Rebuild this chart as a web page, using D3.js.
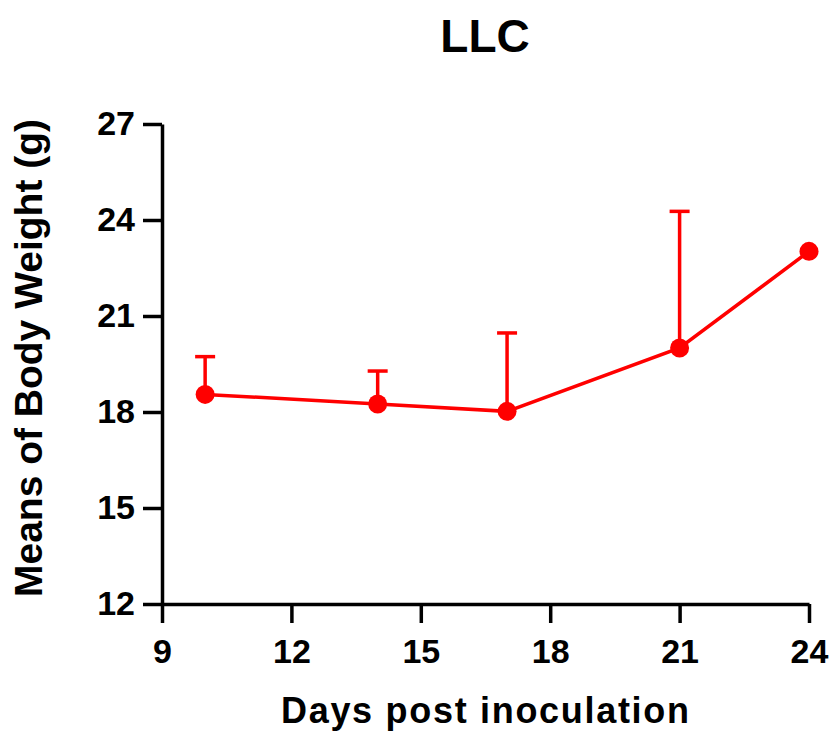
<!DOCTYPE html>
<html>
<head>
<meta charset="utf-8">
<script src="https://cdn.jsdelivr.net/npm/d3@7"></script>
<style>
  body { margin: 0; background: #fff; }
  text { font-family: "Liberation Sans", Arial, sans-serif; font-weight: bold; }
</style>
</head>
<body>
<div id="chart"></div>
<script>
// Datos
const days = [10, 14, 17, 21, 24];
const meanWeight = [18.55, 18.25, 18.02, 20.0, 23.02];
const upperError = [19.73, 19.28, 20.47, 24.27, null];
const xTicks = [9, 12, 15, 18, 21, 24];
const yTicks = [12, 15, 18, 21, 24, 27];

const width = 833, height = 734;
const margin = {top: 124, right: 24, bottom: 130, left: 162};

const svg = d3.select("#chart").append("svg")
  .attr("width", width)
  .attr("height", height);

const x = d3.scaleLinear().domain([9, 24]).range([margin.left, width - margin.right]);
const y = d3.scaleLinear().domain([12, 27]).range([height - margin.bottom, margin.top]);

// Ejes
const xAxis = svg.append("g")
  .attr("transform", `translate(0,${height - margin.bottom})`)
  .call(d3.axisBottom(x).tickValues(xTicks).tickSize(19).tickSizeOuter(0).tickPadding(16));

const yAxis = svg.append("g")
  .attr("transform", `translate(${margin.left},0)`)
  .call(d3.axisLeft(y).tickValues(yTicks).tickSize(19).tickSizeOuter(0).tickPadding(8));

[xAxis, yAxis].forEach(g => {
  g.select(".domain").attr("stroke", "#000").attr("stroke-width", 3.5);
  g.selectAll(".tick line").attr("stroke", "#000").attr("stroke-width", 3.5);
  g.selectAll(".tick text")
    .attr("fill", "#000")
    .style("font-size", "34px")
    .style("font-weight", "bold");
});

// Barras de error (sólo hacia arriba)
const points = days.map((d, i) => ({day: d, mean: meanWeight[i], up: upperError[i]}));
const withErr = points.filter(p => p.up !== null);

svg.selectAll(".err")
  .data(withErr)
  .enter().append("line")
  .attr("x1", d => x(d.day)).attr("x2", d => x(d.day))
  .attr("y1", d => y(d.mean)).attr("y2", d => y(d.up))
  .attr("stroke", "#ff0000").attr("stroke-width", 3.5);

svg.selectAll(".cap")
  .data(withErr)
  .enter().append("line")
  .attr("x1", d => x(d.day) - 10).attr("x2", d => x(d.day) + 10)
  .attr("y1", d => y(d.up)).attr("y2", d => y(d.up))
  .attr("stroke", "#ff0000").attr("stroke-width", 3.5);

// Línea
svg.append("path")
  .datum(points)
  .attr("fill", "none")
  .attr("stroke", "#ff0000")
  .attr("stroke-width", 3.5)
  .attr("d", d3.line().x(d => x(d.day)).y(d => y(d.mean)));

// Puntos
svg.selectAll(".pt")
  .data(points)
  .enter().append("circle")
  .attr("cx", d => x(d.day))
  .attr("cy", d => y(d.mean))
  .attr("r", 9.5)
  .attr("fill", "#ff0000");

// Título y etiquetas
svg.append("text")
  .attr("x", 485).attr("y", 52)
  .attr("text-anchor", "middle")
  .style("font-size", "46px")
  .text("LLC");

svg.append("text")
  .attr("x", 485).attr("y", 723)
  .attr("text-anchor", "middle")
  .attr("textLength", 408)
  .attr("lengthAdjust", "spacing")
  .style("font-size", "36px")
  .text("Days post inoculation");

svg.append("text")
  .attr("transform", `translate(42,358) rotate(-90)`)
  .attr("text-anchor", "middle")
  .style("font-size", "39px")
  .text("Means of Body Weight (g)");
</script>
</body>
</html>
